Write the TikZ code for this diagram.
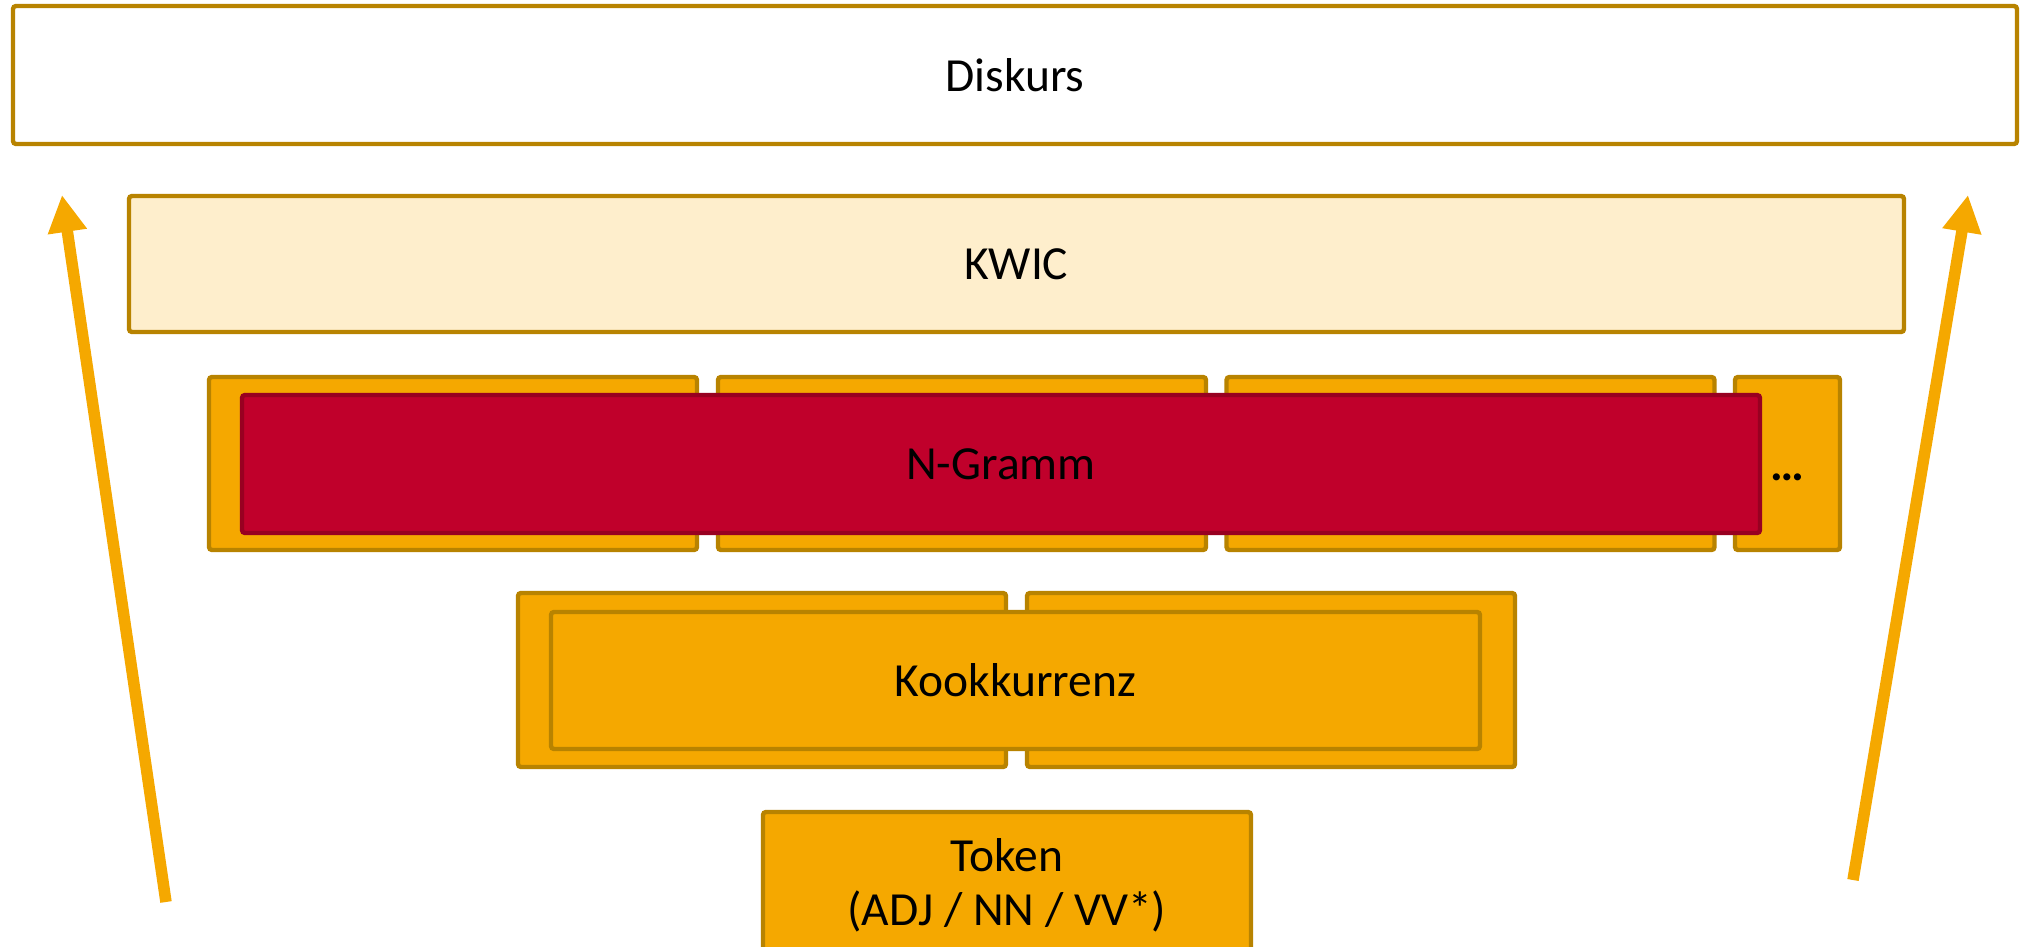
\documentclass[tikz,border=0pt]{standalone}
\usepackage{fontspec}
\setmainfont{Carlito}
\usetikzlibrary{arrows.meta}
\definecolor{gold}{HTML}{B88300}
\definecolor{amber}{HTML}{F5A800}
\definecolor{cream}{HTML}{FEEECC}
\definecolor{crimson}{HTML}{C0002B}
\definecolor{darkred}{HTML}{980021}
\tikzset{
  layer/.style={draw=gold, line width=2.2pt, rounded corners=1.5pt, inner sep=0pt,
    font=\fontsize{23.75}{27}\selectfont, align=center},
  part/.style={layer, fill=amber, minimum width=244pt, minimum height=86.5pt},
  flow/.style={amber, line width=5.75pt, -{Triangle[width=18.5pt,length=18.5pt]}}
}
\begin{document}
\begin{tikzpicture}[x=0.5pt,y=-0.5pt]
            \useasboundingbox (0,0) rectangle (2020,947);
            \clip (0,0) rectangle (2020,947);
            \node[layer, fill=white, minimum width=1002pt, minimum height=69pt] at (1015,75) (diskurs) {Diskurs};
            \node[layer, fill=cream, minimum width=887.5pt, minimum height=68pt] at (1016.5,264) (kwic) {KWIC};
            % N-Gramm
            \node[part] at (453,463.5) (ng1) {};
            \node[part] at (962,463.5) (ng2) {};
            \node[part] at (1470.5,463.5) (ng3) {};
            \node[part, minimum width=52.5pt] at (1787.5,463.5) (ng4) {\strut\raisebox{-3pt}{\textbf{\dots}}};
            \node[layer, draw=darkred, fill=crimson, minimum width=759pt, minimum height=69pt] at (1001,464) (ngramm) {N-Gramm};
            % Kookkurrenz
            \node[part, minimum height=87pt] at (762,680) (kk1) {};
            \node[part, minimum height=87pt] at (1271,680) (kk2) {};
            \node[layer, fill=amber, minimum width=464.5pt, minimum height=68.5pt] at (1015.5,680.5) (kook) {Kookkurrenz};
            \node[part, minimum height=73pt] at (1007,885) (token) {Token\\(ADJ / NN / VV*)};
            \coordinate (ltail) at (166,902);
            \coordinate (ltip) at (62,195);
            \coordinate (rtail) at (1853,880);
            \coordinate (rtip) at (1968,195);
            \draw[flow] (ltail) -- (ltip);
            \draw[flow] (rtail) -- (rtip);
        \end{tikzpicture}
\end{document}
